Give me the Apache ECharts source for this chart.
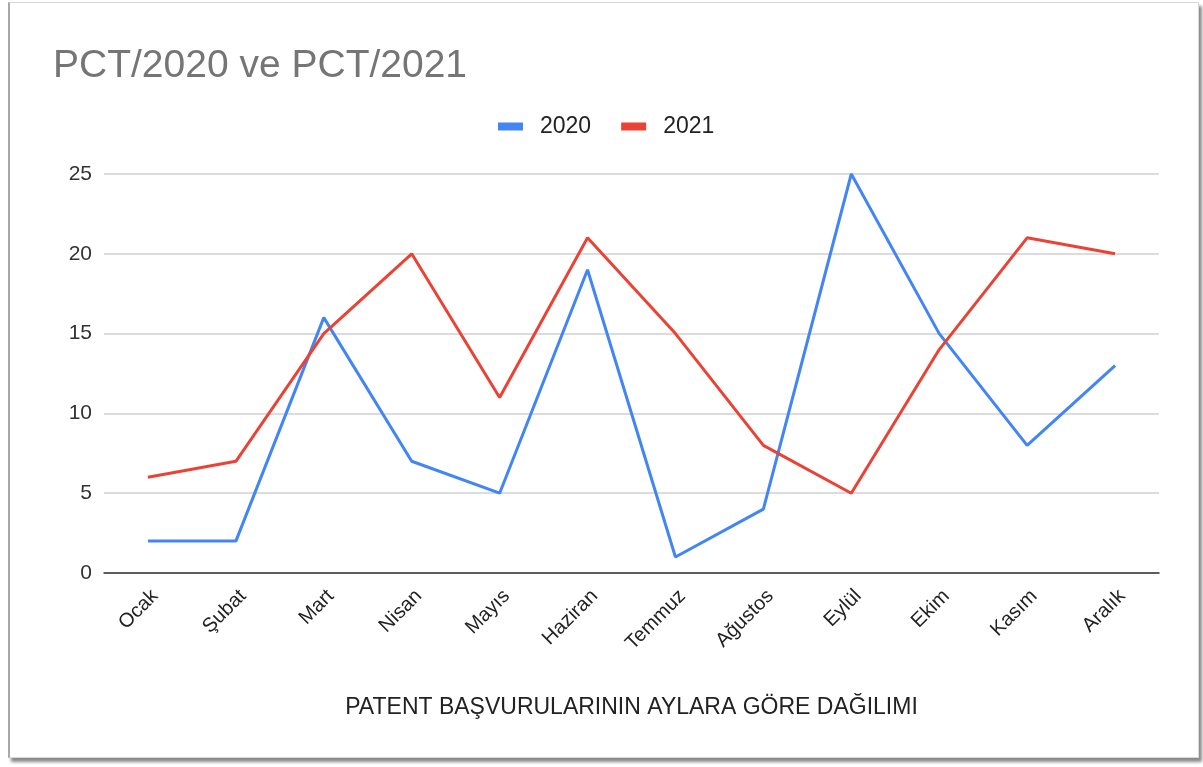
<!DOCTYPE html>
<html>
<head>
<meta charset="utf-8">
<script src="https://cdn.jsdelivr.net/npm/echarts@6/dist/echarts.min.js"></script>
<style>
  html, body { margin: 0; padding: 0; background: #ffffff; }
  #frame { position: absolute; left: 8px; top: 2px; width: 1188px; height: 754px; border: 1px solid #d8d8d8; border-left: 2px solid #a8a8a8; box-shadow: 3px 4px 3px #8a8a8a; background: #fff; }
  #chart { position: absolute; left: 0; top: 0; width: 1203px; height: 767px; }
</style>
</head>
<body>
<div id="frame"></div>
<div id="chart"></div>
<script>
const categories = ['Ocak', 'Şubat', 'Mart', 'Nisan', 'Mayıs', 'Haziran', 'Temmuz', 'Ağustos', 'Eylül', 'Ekim', 'Kasım', 'Aralık'];
const values2020 = [2, 2, 16, 7, 5, 19, 1, 4, 25, 15, 8, 13];
const values2021 = [6, 7, 15, 20, 11, 21, 15, 8, 5, 14, 21, 20];
const seriesNames = ['2020', '2021'];
const titleText = 'PCT/2020 ve PCT/2021';
const xAxisTitle = 'PATENT BAŞVURULARININ AYLARA GÖRE DAĞILIMI';

const chart = echarts.init(document.getElementById('chart'), null, { renderer: 'canvas' });
const font = 'Liberation Sans, Arial, sans-serif';
chart.setOption({
  backgroundColor: 'transparent',
  animation: false,
  textStyle: { fontFamily: font },
  title: {
    text: titleText,
    left: 48, top: 42,
    textStyle: { fontFamily: font, fontSize: 39, fontWeight: 'normal', color: '#757575' }
  },
  legend: {
    data: seriesNames,
    top: 110, left: 493,
    icon: 'rect', itemWidth: 25, itemHeight: 8, itemGap: 30,
    textStyle: { fontFamily: font, fontSize: 23, color: '#222', padding: [0, 0, 0, 12] }
  },
  grid: { left: 104, right: 44, top: 174, bottom: 194, containLabel: false },
  xAxis: {
    type: 'category',
    data: categories,
    boundaryGap: true,
    axisLine: { show: true, lineStyle: { color: '#333', width: 1.5 } },
    axisTick: { show: false },
    axisLabel: { rotate: 45, fontSize: 20, color: '#222', margin: 13, verticalAlign: 'top', fontFamily: font, interval: 0 },
    name: xAxisTitle,
    nameLocation: 'middle',
    nameGap: 123,
    nameTextStyle: { fontSize: 23, color: '#222', fontFamily: font }
  },
  yAxis: {
    type: 'value',
    min: 0, max: 25, interval: 5,
    axisLine: { show: false },
    axisTick: { show: false },
    axisLabel: { fontSize: 21, color: '#333', margin: 12, fontFamily: font },
    splitLine: { lineStyle: { color: '#d0d0d0', width: 1.5 } }
  },
  series: [
    { name: seriesNames[0], type: 'line', data: values2020, symbol: 'none', lineStyle: { color: '#4285F4', width: 3 }, itemStyle: { color: '#4285F4' } },
    { name: seriesNames[1], type: 'line', data: values2021, symbol: 'none', lineStyle: { color: '#EA4335', width: 3 }, itemStyle: { color: '#EA4335' } }
  ]
});
</script>
</body>
</html>
